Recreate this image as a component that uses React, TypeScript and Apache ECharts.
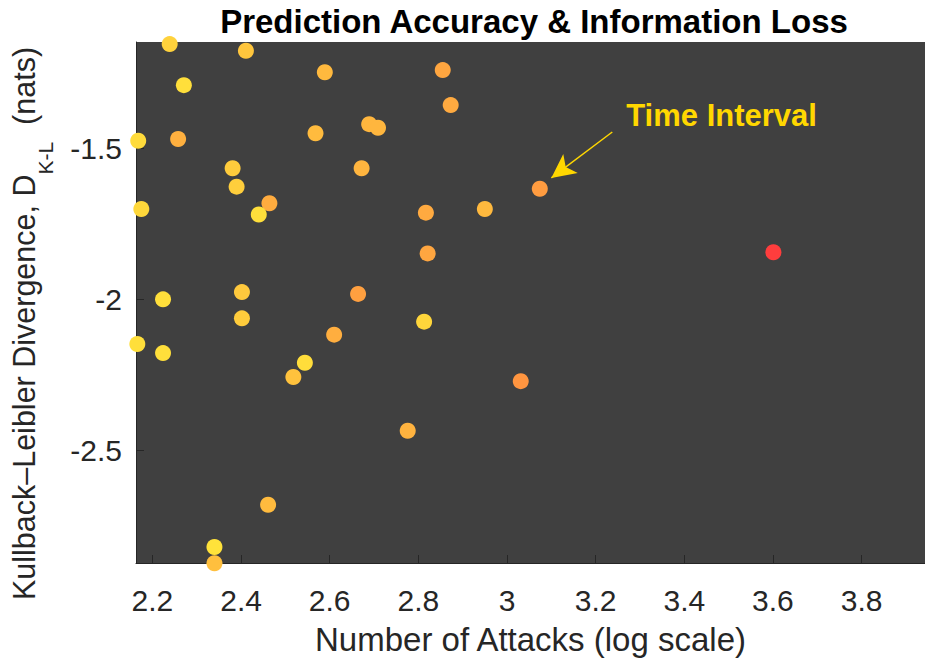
import React, { useEffect, useRef } from "react";
import * as echarts from "echarts";

const attacksLog = [
  2.239, 2.411, 2.589, 2.271, 2.168, 2.258, 2.568, 2.689, 2.709, 2.381,
  2.39, 2.672, 2.175, 2.464, 2.44, 2.817, 2.855, 2.873, 3.074, 2.95,
  2.821, 3.601, 2.224, 2.402, 2.402, 2.664, 2.166, 2.224, 2.61, 2.813,
  2.544, 2.518, 3.031, 2.776, 2.461, 2.34, 2.34,
];
const klDivergence = [
  -1.156, -1.178, -1.249, -1.292, -1.476, -1.47, -1.451, -1.421, -1.433, -1.567,
  -1.628, -1.567, -1.702, -1.683, -1.72, -1.714, -1.242, -1.358, -1.635, -1.702,
  -1.849, -1.845, -2.001, -1.977, -2.064, -1.983, -2.149, -2.179, -2.118, -2.075,
  -2.211, -2.258, -2.272, -2.436, -2.681, -2.821, -2.875,
];
const colorLevel = [
  0.15, 0.25, 0.35, 0.05, 0.08, 0.42, 0.33, 0.37, 0.37, 0.2,
  0.18, 0.38, 0.1, 0.45, 0.05, 0.47, 0.5, 0.47, 0.55, 0.35,
  0.5, 1.0, 0.05, 0.22, 0.2, 0.53, 0.05, 0.05, 0.44, 0.12,
  0.06, 0.28, 0.58, 0.4, 0.33, 0.02, 0.3,
];
const xTicks = [2.2, 2.4, 2.6, 2.8, 3.0, 3.2, 3.4, 3.6, 3.8];
const yTicks = [-2.5, -2.0, -1.5];
const annotationText = "Time Interval";
const arrowFrom = [3.2375, -1.447];
const arrowTo = [3.1, -1.599];
const textAt = [3.269, -1.391];

export default function App() {
  const ref = useRef<HTMLDivElement>(null);
  useEffect(() => {
    if (!ref.current) return;
    const chart = echarts.init(ref.current, undefined, { renderer: "svg" });
    const data = attacksLog.map((x, i) => [x, klDivergence[i], colorLevel[i]]);
    const font = "'Liberation Sans', Arial, Helvetica, sans-serif";
    chart.setOption({
      animation: false,
      backgroundColor: "#ffffff",
      title: {
        text: "Prediction Accuracy & Information Loss",
        left: 529,
        textAlign: "center",
        top: 0,
        textStyle: { fontFamily: font, fontSize: 33, fontWeight: "bold", color: "#000" },
      },
      grid: {
        left: 133,
        right: 0,
        top: 42,
        bottom: 104,
        show: true,
        backgroundColor: "#404040",
        borderWidth: 0,
      },
      visualMap: {
        show: false,
        dimension: 2,
        min: 0,
        max: 1,
        inRange: { color: ["#FFE53A", "#FFA640", "#FF3D3D"] },
      },
      xAxis: {
        type: "value",
        min: 2.163,
        max: 3.943,
        name: "Number of Attacks (log scale)",
        nameLocation: "middle",
        nameGap: 60,
        nameTextStyle: { fontFamily: font, fontSize: 33, color: "#262626" },
        splitLine: { show: false },
        axisLine: { show: true, lineStyle: { color: "#262626", width: 1 } },
        axisTick: { show: true, inside: true, length: 8, customValues: xTicks, lineStyle: { color: "#262626" } },
        axisLabel: {
          customValues: xTicks,
          margin: 22,
          fontFamily: font,
          fontSize: 30,
          color: "#262626",
          formatter: (v: number) => String(Math.round(v * 10) / 10),
        },
      },
      yAxis: {
        type: "value",
        min: -2.874,
        max: -1.149,
        name: "{m|Kullback–Leibler Divergence, D}{s|K-L}{m|  (nats)}",
        nameLocation: "middle",
        nameGap: 80,
        nameTextStyle: {
          fontFamily: font,
          color: "#262626",
          padding: [0, 42, 0, 0],
          rich: {
            m: { fontFamily: font, fontSize: 30.5, color: "#262626", lineHeight: 48, verticalAlign: "top" },
            s: { fontFamily: font, fontSize: 21, color: "#262626", lineHeight: 48, verticalAlign: "bottom" },
          },
        },
        splitLine: { show: false },
        axisLine: { show: true, lineStyle: { color: "#262626", width: 1 } },
        axisTick: { show: true, inside: true, length: 8, customValues: yTicks, lineStyle: { color: "#262626" } },
        axisLabel: {
          customValues: yTicks,
          margin: 14,
          fontFamily: font,
          fontSize: 30,
          color: "#262626",
          formatter: (v: number) => String(Math.round(v * 10) / 10),
        },
      },
      series: [
        {
          type: "scatter",
          data,
          symbolSize: 16,
          clip: false,
          itemStyle: { opacity: 1 },
          markLine: {
            silent: true,
            symbol: ["none", "arrow"],
            symbolSize: [18, 24],
            label: { show: false },
            lineStyle: { color: "#FFD700", width: 1.5, type: "solid" },
            data: [[{ coord: arrowFrom }, { coord: arrowTo }]],
          },
        },
      ],
    });
    const p = chart.convertToPixel({ gridIndex: 0 }, textAt) as number[];
    chart.setOption({
      graphic: [
        {
          type: "text",
          x: p[0],
          y: p[1],
          style: {
            text: annotationText,
            fill: "#FFD700",
            font: `bold 31px ${font}`,
            textAlign: "left",
            textVerticalAlign: "middle",
          },
        },
      ],
    });
    return () => chart.dispose();
  }, []);
  return (
    <div
      ref={ref}
      style={{ position: "fixed", left: 0, top: 0, width: 925, height: 667 }}
    />
  );
}
